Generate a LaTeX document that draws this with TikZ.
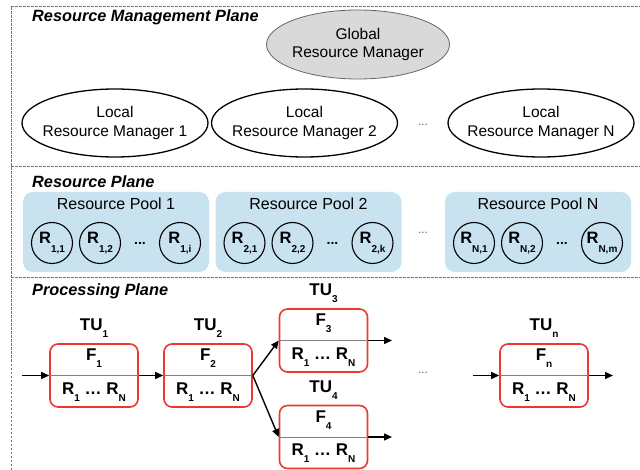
\documentclass[tikz,border=0pt]{standalone}
\usepackage{fontspec}
\setmainfont{Liberation Sans}
\usetikzlibrary{shapes.geometric,arrows.meta}
\definecolor{poolblue}{RGB}{200,226,239}
\definecolor{tured}{RGB}{232,58,46}
\definecolor{gfill}{RGB}{217,217,217}
\newcommand\lsub[1]{\raisebox{-0.4em}{\fontsize{10}{10}\selectfont #1}}
\newcommand\csub[1]{\raisebox{-0.5em}{\fontsize{10}{10}\selectfont #1}}
\begin{document}
\begin{tikzpicture}[x=1pt,y=-1pt,
  planeline/.style={draw=black!55, dash pattern=on 2.5pt off 1.5pt, line width=0.6pt},
  planetitle/.style={anchor=west, inner sep=0pt, font=\fontsize{16.3}{19}\selectfont\bfseries\itshape},
  glob/.style={ellipse, draw=black!60, line width=0.8pt, fill=gfill, minimum width=183pt, minimum height=69pt, inner sep=0pt},
  lrm/.style={ellipse, draw=black, line width=1.3pt, fill=white, minimum width=186pt, minimum height=68pt, inner sep=0pt},
  etext/.style={inner sep=0pt, align=center, font=\fontsize{15.5}{18.5}\selectfont},
  pool/.style={fill=poolblue, rounded corners=10pt, minimum width=186pt, minimum height=80pt, inner sep=0pt},
  pooltitle/.style={inner sep=0pt, font=\fontsize{16}{19}\selectfont},
  res/.style={circle, draw=black, line width=1.1pt, minimum size=41pt, inner sep=0pt, font=\fontsize{16.5}{19}\selectfont\bfseries},
  pdots/.style={inner sep=0pt, font=\fontsize{14}{14}\selectfont\bfseries},
  ldots/.style={inner sep=0pt, text=black!60, font=\fontsize{12}{12}\selectfont},
  tubox/.style={draw=tured, line width=1.6pt, rounded corners=8pt, minimum width=88pt, minimum height=63pt, inner sep=0pt},
  divider/.style={draw=black!50, line width=1pt},
  tutext/.style={inner sep=0pt, font=\fontsize{17}{20}\selectfont\bfseries},
  arr/.style={-{Triangle[length=8pt,width=7pt]}, line width=1.4pt}
]
\useasboundingbox (0,0) rectangle (640,470);

% plane borders
\draw[planeline] (11,470) -- (11,6) -- (640,6);
\draw[planeline] (11,166) -- (640,166);
\draw[planeline] (11,277) -- (640,277);

% Resource Management Plane
\node[planetitle] (t1) at (32,17) {Resource Management Plane};
\node[glob] (grm) at (358,44.5) {};
\node[etext] (grmt) at (grm) {Global\\Resource Manager};
\node[lrm] (lrm1) at (115,123) {};
\node[etext] (lrm1t) at (lrm1) {Local\\Resource Manager 1};
\node[lrm] (lrm2) at (304.5,123) {};
\node[etext] (lrm2t) at (lrm2) {Local\\Resource Manager 2};
\node[ldots] (d1) at (423,125) {...};
\node[lrm] (lrmn) at (541,123) {};
\node[etext] (lrmnt) at (lrmn) {Local\\Resource Manager N};

% Resource Plane
\node[planetitle] (t2) at (32,182) {Resource Plane};
\node[pool] (p1) at (116,232) {};
\node[pool] (p2) at (308.5,232) {};
\node[pool] (pn) at (538,232) {};
\node[pooltitle] (p1t) at (116,204) {Resource Pool 1};
\node[pooltitle] (p2t) at (308.5,204) {Resource Pool 2};
\node[pooltitle] (pnt) at (538,204) {Resource Pool N};
\node[ldots] (d2) at (423,233) {...};

\node[res] (r11) at (52,243) {R\csub{1,1}};
\node[res] (r12) at (100,243) {R\csub{1,2}};
\node[pdots] (p1d) at (140,243) {...};
\node[res] (r1i) at (180,243) {R\csub{1,i}};

\node[res] (r21) at (244.5,243) {R\csub{2,1}};
\node[res] (r22) at (292.5,243) {R\csub{2,2}};
\node[pdots] (p2d) at (332.5,243) {...};
\node[res] (r2k) at (372.5,243) {R\csub{2,k}};

\node[res] (rn1) at (474,243) {R\csub{N,1}};
\node[res] (rn2) at (522,243) {R\csub{N,2}};
\node[pdots] (pnd) at (562,243) {...};
\node[res] (rnm) at (602,243) {R\csub{N,m}};

% Processing Plane
\node[planetitle] (t3) at (32,291) {Processing Plane};

\node[tubox] (u1) at (94,375.5) {};
\node[tubox] (u2) at (208,375.5) {};
\node[tubox] (u3) at (323.5,340.5) {};
\node[tubox] (u4) at (323.5,437) {};
\node[tubox] (un) at (544,375.5) {};

\foreach \u/\s in {u1/1,u2/2,u3/3,u4/4,un/n}{
  \draw[divider] (\u.west) -- (\u.east);
  \path (\u.center) ++(0,-17) node[tutext] (\u f) {F\lsub{\s}};
  \path (\u.center) ++(0,16.5) node[tutext] (\u r) {R\lsub{1} … R\lsub{N}};
  \path (\u.center) ++(0,-47) node[tutext] (\u l) {TU\lsub{\s}};
}

\node[ldots] (d3) at (423,373) {...};

\coordinate (in1) at (22,375.5);
\coordinate (o3) at (392,340.5);
\coordinate (o4) at (392,437);
\coordinate (inn) at (473,375.5);
\coordinate (onn) at (613,375.5);

\draw[arr] (in1) -- (u1.west);
\draw[arr] (u1.east) -- (u2.west);
\draw[arr] (u2.east) -- (u3.west);
\draw[arr] (u2.east) -- (u4.west);
\draw[arr] (u3.east) -- (o3);
\draw[arr] (u4.east) -- (o4);
\draw[arr] (inn) -- (un.west);
\draw[arr] (un.east) -- (onn);
\end{tikzpicture}
\end{document}
